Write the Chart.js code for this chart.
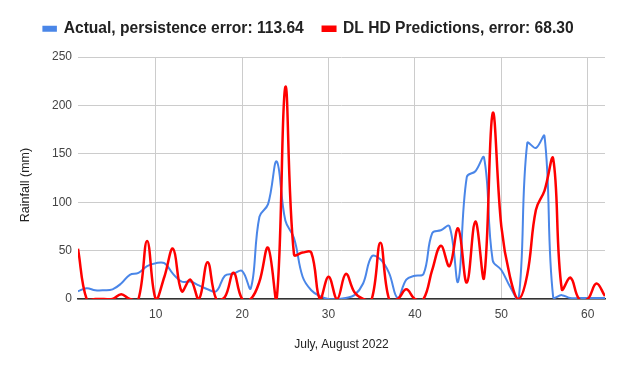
<!DOCTYPE html>
<html>
<head>
<meta charset="utf-8">
<script src="https://cdn.jsdelivr.net/npm/chart.js@4.4.1/dist/chart.umd.min.js"></script>
<style>
  html, body { margin: 0; padding: 0; background: #fff; }
  #wrap { width: 623px; height: 371px; }
</style>
</head>
<body>
<div id="wrap"><canvas id="rainChart" width="623" height="371"></canvas></div>
<script>
/* ===== data (days 1..62, rainfall in mm) ===== */
const days = [
   1,  2,  3,  4,  5,  6,  7,  8,  9, 10, 11, 12, 13, 14, 15, 16, 17, 18, 19, 20, 21,
  22, 23, 24, 25, 26, 27, 28, 29, 30, 31, 32, 33, 34, 35, 36, 37, 38, 39, 40, 41,
  42, 43, 44, 45, 46, 47, 48, 49, 50, 51, 52, 53, 54, 55, 56, 57, 58, 59, 60, 61, 62
];
const actualRain = [
   8, 11,  9,  9, 10, 16, 25, 27, 34, 37, 37, 26, 18, 18, 14, 10,  8, 24, 26, 29, 11,
  85, 98,142, 81, 63, 23,  9,  3,  0,  0,  1,  4, 16, 44, 41, 27,  1, 20, 24, 26,
  68, 71, 75, 18,126,132,146, 40, 30, 13,  0,161,156,168,  2,  4,  1,  1,  1,  1,  1
];
const predictedRain = [
  52,  0,  0,  0,  0,  5,  0,  0, 60,  0, 23, 52,  8, 20,  0, 38,  0,  2, 27,  0,  0,
  18, 53,  0,219, 46, 48, 48,  0, 23,  0, 26,  7,  0,  0, 58,  0,  0, 10,  0,  0,
  30, 55, 34, 73, 17, 80, 22,192, 75, 23,  0, 25, 92,112,145, 10, 22,  0,  0, 16,  3
];
const xTicks = [10, 20, 30, 40, 50, 60];
const seriesNames = [
  "Actual, persistence error: 113.64",
  "DL HD Predictions, error: 68.30"
];
const yTitle = "Rainfall (mm)";

const FONT = "'Liberation Sans', Arial, sans-serif";

// legend: fixed height + small nudge to the right like the original
const legendFix = {
  id: "legendFix",
  beforeInit(chart) {
    const fit = chart.legend.fit;
    chart.legend.fit = function () {
      fit.call(this);
      this.height = 55;
    };
  },
  afterUpdate(chart) {
    chart.legend.left += 6;
    chart.legend.right += 6;
  }
};

// y title sits a bit lower than the plot centre in the original
const yTitleDraw = {
  id: "yTitleDraw",
  afterDraw(chart) {
    const c = chart.ctx;
    c.save();
    c.translate(26, 185);
    c.rotate(-Math.PI / 2);
    c.font = "12.5px " + FONT;
    c.fillStyle = "#222";
    c.textAlign = "center";
    c.textBaseline = "middle";
    c.fillText(yTitle, 0, 0);
    c.restore();
  }
};

const toXY = (vals) => vals.map((v, i) => ({ x: days[i], y: v }));

const ctx = document.getElementById("rainChart").getContext("2d");
new Chart(ctx, {
  type: "line",
  data: {
    datasets: [
      {
        label: seriesNames[0],
        data: toXY(actualRain),
        borderColor: "#4a86e8",
        backgroundColor: "#4a86e8",
        borderWidth: 2,
        pointRadius: 0,
        tension: 0.4,
        order: 1
      },
      {
        label: seriesNames[1],
        data: toXY(predictedRain),
        borderColor: "#ff0000",
        backgroundColor: "#ff0000",
        borderWidth: 2.5,
        pointRadius: 0,
        tension: 0.4,
        order: 0
      }
    ]
  },
  options: {
    responsive: false,
    animation: false,
    events: [],
    elements: { line: { capBezierPoints: false } },
    layout: { padding: { top: 2, right: 18, bottom: 0, left: 0 } },
    plugins: {
      legend: {
        position: "top",
        labels: {
          sort: (a, b) => a.datasetIndex - b.datasetIndex,
          boxWidth: 12.5,
          boxHeight: 4,
          padding: 19,
          color: "#222",
          font: { family: FONT, size: 15.6, weight: "bold" }
        }
      },
      tooltip: { enabled: false }
    },
    scales: {
      x: {
        type: "linear",
        min: 1,
        max: 62,
        afterBuildTicks: (scale) => {
          scale.ticks = xTicks.map(v => ({ value: v }));
        },
        afterFit: (scale) => { scale.height = 72; },
        grid: { color: "#cccccc", lineWidth: 1, drawTicks: false },
        border: { display: true, color: "#333333", width: 1.5 },
        ticks: {
          padding: 8,
          maxRotation: 0,
          color: "#444",
          font: { family: FONT, size: 12 }
        },
        title: {
          display: true,
          text: "July, August 2022",
          color: "#222",
          padding: { top: 0, bottom: 19 },
          font: { family: FONT, size: 12 }
        }
      },
      y: {
        min: 0,
        max: 250,
        afterFit: (scale) => { scale.width = 78; },
        grid: { color: "#cccccc", lineWidth: 1, drawTicks: false },
        border: { display: false },
        ticks: {
          stepSize: 50,
          padding: 6,
          color: "#444",
          font: { family: FONT, size: 12 }
        }
      }
    }
  },
  plugins: [legendFix, yTitleDraw]
});
</script>
</body>
</html>
